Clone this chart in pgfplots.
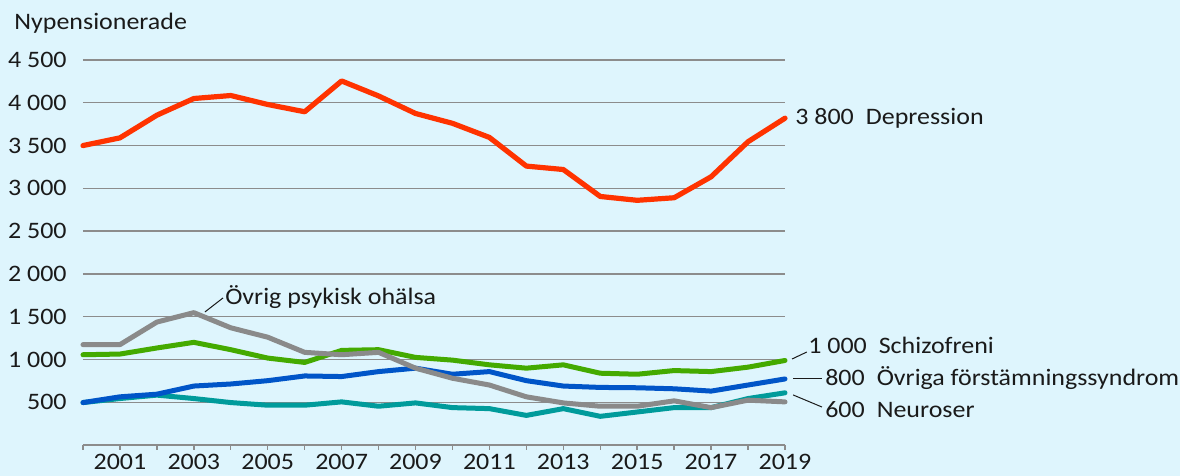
\documentclass[border=0pt]{standalone}
\usepackage{pgfplots}
\pgfplotsset{compat=1.18}
\usepackage{fontspec}
\setmainfont{Carlito}[FakeStretch=1.1]
\definecolor{bg}{HTML}{DEF5FD}
\definecolor{txt}{HTML}{1A1A1A}
\definecolor{gridc}{HTML}{8C8C8C}
\definecolor{cred}{HTML}{FF3300}
\definecolor{cgreen}{HTML}{44AA00}
\definecolor{cblue}{HTML}{0055C8}
\definecolor{cteal}{HTML}{009B9B}
\definecolor{cgray}{HTML}{8A8A8A}
\begin{document}
\begin{tikzpicture}[font=\fontsize{11.8bp}{14bp}\selectfont, text=txt]
\fill[bg] (-41.5bp,-15.5bp) rectangle (548.5bp,222.5bp);
\begin{axis}[
  at={(0,0)}, anchor=south west,
  scale only axis, width=351bp, height=192.5bp,
  xmin=2000, xmax=2019, ymin=0, ymax=4500,
  axis lines*=left,
  y axis line style={draw=none},
  x axis line style={gridc, line width=0.7bp},
  xtick={2000,...,2019},
  xticklabels={,2001,,2003,,2005,,2007,,2009,,2011,,2013,,2015,,2017,,2019},
  ytick={500,1000,...,4500},
  yticklabels={500,1 000,1 500,2 000,2 500,3 000,3 500,4 000,4 500},
  tick align=outside,
  xtick style={gridc, line width=0.7bp},
  major tick length=2.5bp,
  ytick style={draw=none},
  ymajorgrids,
  grid style={gridc, line width=0.7bp},
  xticklabel style={anchor=north, inner sep=0pt, yshift=-1.8bp},
  yticklabel style={anchor=east, inner sep=0pt, xshift=-5.5bp},
  clip=false,
  every axis plot/.append style={line width=2.5bp, line join=round, line cap=round},
]
\addplot[cteal] coordinates {
(2000,496)(2001,543)(2002,583)(2003,543)(2004,496)(2005,465)(2006,465)(2007,504)(2008,453)
(2009,492)(2010,437)(2011,425)(2012,346)(2013,425)(2014,335)(2015,386)(2016,437)(2017,437)(2018,543)(2019,610)};
\addplot[cblue] coordinates {
(2000,496)(2001,563)(2002,594)(2003,689)(2004,713)(2005,752)(2006,807)(2007,800)(2008,858)
(2009,898)(2010,827)(2011,858)(2012,752)(2013,689)(2014,673)(2015,669)(2016,657)(2017,630)(2018,701)(2019,772)};
\addplot[cgreen] coordinates {
(2000,1055)(2001,1063)(2002,1134)(2003,1200)(2004,1114)(2005,1016)(2006,965)(2007,1106)(2008,1114)
(2009,1024)(2010,992)(2011,937)(2012,898)(2013,937)(2014,839)(2015,827)(2016,870)(2017,858)(2018,910)(2019,988)};
\addplot[cgray] coordinates {
(2000,1173)(2001,1173)(2002,1437)(2003,1547)(2004,1370)(2005,1260)(2006,1083)(2007,1055)(2008,1083)
(2009,898)(2010,780)(2011,701)(2012,563)(2013,492)(2014,453)(2015,453)(2016,516)(2017,437)(2018,524)(2019,504)};
\addplot[cred, line width=2.6bp] coordinates {
(2000,3500)(2001,3590)(2002,3855)(2003,4050)(2004,4085)(2005,3980)(2006,3895)(2007,4255)(2008,4080)
(2009,3875)(2010,3760)(2011,3595)(2012,3260)(2013,3220)(2014,2905)(2015,2860)(2016,2890)(2017,3135)(2018,3545)(2019,3820)};
% annotations
\draw[txt, line width=0.5bp] (axis cs:2003.30,1555) -- (axis cs:2003.79,1719);
\node[anchor=base west, inner sep=0pt] at (axis cs:2003.84,1637) {Övrig psykisk ohälsa};
\node[anchor=base west, inner sep=0pt] at (axis cs:2019.27,3741) {3 800\hspace{6bp}Depression};
\draw[txt, line width=0.5bp] (axis cs:2019.19,1005) -- (axis cs:2019.59,1087);
\node[anchor=base west, inner sep=0pt] at (axis cs:2019.62,1064) {1 000\hspace{6bp}Schizofreni};
\draw[txt, line width=0.5bp] (axis cs:2019.22,772) -- (axis cs:2020.0,772);
\node[anchor=base west, inner sep=0pt] at (axis cs:2020.08,701) {800\hspace{6bp}Övriga förstämningssyndrom};
\draw[txt, line width=0.5bp] (axis cs:2019.22,585) -- (axis cs:2020.0,444);
\node[anchor=base west, inner sep=0pt] at (axis cs:2020.08,327) {600\hspace{6bp}Neuroser};
\end{axis}
\node[anchor=base west, inner sep=0pt] at (-34.5bp,207.5bp) {Nypensionerade};
\pgfresetboundingbox
\useasboundingbox (-41.5bp,-15.5bp) rectangle (548.5bp,222.5bp);
\end{tikzpicture}
\end{document}
